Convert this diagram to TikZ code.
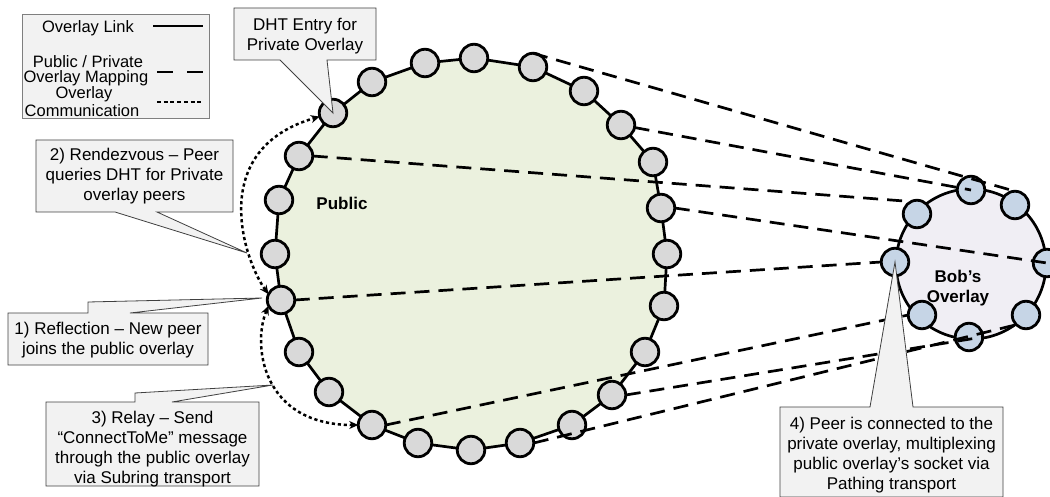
\documentclass[tikz,border=0pt]{standalone}
\usepackage{fontspec}
\setmainfont{Liberation Sans}
\usetikzlibrary{arrows.meta,calc}
\definecolor{pubfill}{HTML}{EBF1DE}
\definecolor{peergray}{HTML}{D9D9D9}
\definecolor{bobfill}{HTML}{F0EEF4}
\definecolor{bobpeer}{HTML}{C6D5E6}
\definecolor{calloutfill}{HTML}{F2F2F2}
\definecolor{calloutline}{HTML}{404040}
\definecolor{legendline}{HTML}{7F7F7F}
\begin{document}
\begin{tikzpicture}[x=1pt,y=-1pt,
  peer/.style={circle,draw=black,line width=2.8pt,fill=peergray,minimum size=27.5pt,inner sep=0pt,outer sep=0pt},
  bpeer/.style={peer,fill=bobpeer},
  ring/.style={line width=2.7pt,draw=black},
  mapping/.style={line width=2.7pt,dash pattern=on 15pt off 9pt},
  comm/.style={line width=2.5pt,dash pattern=on 3.2pt off 2.8pt,{Stealth[length=9pt,width=8pt]}-{Stealth[length=9pt,width=8pt]}},
  callout/.style={fill=calloutfill,draw=calloutline,line width=0.8pt},
  txt/.style={font=\fontsize{17}{20}\selectfont,align=center,inner sep=0pt},
  legtxt/.style={font=\fontsize{16.5}{18}\selectfont,align=center,inner sep=0pt},
  bold/.style={font=\fontsize{17}{20}\selectfont\bfseries,align=center,inner sep=0pt},
]
\useasboundingbox (0,0) rectangle (1050,497);
\clip (0,0) rectangle (1050,497);

% public ring coordinates
\foreach \i/\x/\y in {1/333/113, 2/372/82, 3/425/63, 4/474/58, 5/533/67, 6/584/91,
  7/621/125, 8/653/162, 9/661/208, 10/667/254, 11/664/306, 12/645/352,
  13/612/395, 14/572/425, 15/520/443, 16/471/450, 17/418/443, 18/372/425,
  19/329/392, 20/299/352, 21/281/300, 22/275/254, 23/279/200, 24/299/156}
  \coordinate (c\i) at (\x,\y);

\fill[pubfill] (c1) \foreach \i in {2,...,24}{ -- (c\i)} -- cycle;
\draw[ring,line join=round] (c1) \foreach \i in {2,...,24}{ -- (c\i)} -- cycle;

% Bob's ring
\coordinate (bc) at (971,264);
\fill[bobfill] (bc) circle[radius=75];
\draw[ring] (bc) circle[radius=75];

% peers
\foreach \i in {1,...,24} \node[peer] (p\i) at (c\i) {};
\foreach \i/\x/\y in {1/895/262, 2/917/214, 3/971/190, 4/1015/205,
  5/1047/263, 6/1026/315, 7/969/337, 8/922/315}
  \node[bpeer] (b\i) at (\x,\y) {};

% public / private overlay mapping
\draw[mapping] (p5.north) -- (b4.north);
\draw[mapping] (p7) -- (b3.center);
\draw[mapping] (p24.east) -- (b2.115);
\draw[mapping] (p9.east) -- (b5.center);
\draw[mapping] (p21.east) -- (b1.west);
\draw[mapping] (p18.east) -- (b8.west);
\draw[mapping] (p13.east) -- (b7.east);
\draw[mapping] (p15.east) -- (b6.south west);

% overlay communication
\draw[comm] (p21.155) .. controls (245,262) and (205,150) .. (p1.195);
\draw[comm] (p21.205) .. controls (252,345) and (262,425) .. (p18.west);

% labels in rings
\node[bold] (publbl) at (342,203) {Public};
\node[bold] (boblbl) at (958,288) {Bob’s\\Overlay};

% legend
\node[draw=legendline,fill=calloutfill,line width=1pt,minimum width=187pt,minimum height=104pt,inner sep=0pt] (legend) at (115.5,67) {};
\node[legtxt] (lg1) at (88,28) {Overlay Link};
\node[legtxt] (lg2) at (88,62) {Public / Private};
\node[legtxt] (lg3) at (86,78.5) {Overlay Mapping};
\node[legtxt] (lg4) at (84,94) {Overlay};
\node[legtxt] (lg5) at (82,111) {Communication};
\draw[line width=2.2pt] (153,26) -- (203,26);
\draw[line width=2.7pt,dash pattern=on 16pt off 14pt] (157,72) -- (203,72);
\draw[line width=2.2pt,dash pattern=on 4pt off 2.7pt] (157,102) -- (203,102);

% callouts
\coordinate (t1) at (262,298);
\coordinate (t2) at (247,253);
\coordinate (t3) at (273,385);

\draw[callout] (234,8) -- (376,8) -- (376,60) -- (327,60) -- (p1.center) -- (280,60) -- (234,60) -- cycle;
\node[txt] (dht) at (305,36) {DHT Entry for\\Private Overlay};

\draw[callout] (36,140) -- (233,140) -- (233,212) -- (157,212) -- (t2) -- (115,212) -- (36,212) -- cycle;
\node[txt] (rdv) at (134.5,176) {2) Rendezvous – Peer\\queries DHT for Private\\overlay peers};

\draw[callout] (8,313) -- (88,313) -- (88,302) -- (t1) -- (130,313) -- (208,313) -- (208,365) -- (8,365) -- cycle;
\node[txt] (refl) at (108,340) {1) Reflection – New peer\\joins the public overlay};

\draw[callout] (46,402) -- (135,402) -- (135,393) -- (t3) -- (172,402) -- (259,402) -- (259,486) -- (46,486) -- cycle;
\node[txt] (relay) at (152.5,449) {3) Relay – Send\\“ConnectToMe” message\\through the public overlay\\via Subring transport};

\draw[callout] (780,407) -- (870,407) -- (b1.center) -- (913,407) -- (1003,407) -- (1003,497) -- (780,497) -- cycle;
\node[txt] (path) at (891.5,455) {4) Peer is connected to the\\private overlay, multiplexing\\public overlay’s socket via\\Pathing transport};
\end{tikzpicture}
\end{document}
